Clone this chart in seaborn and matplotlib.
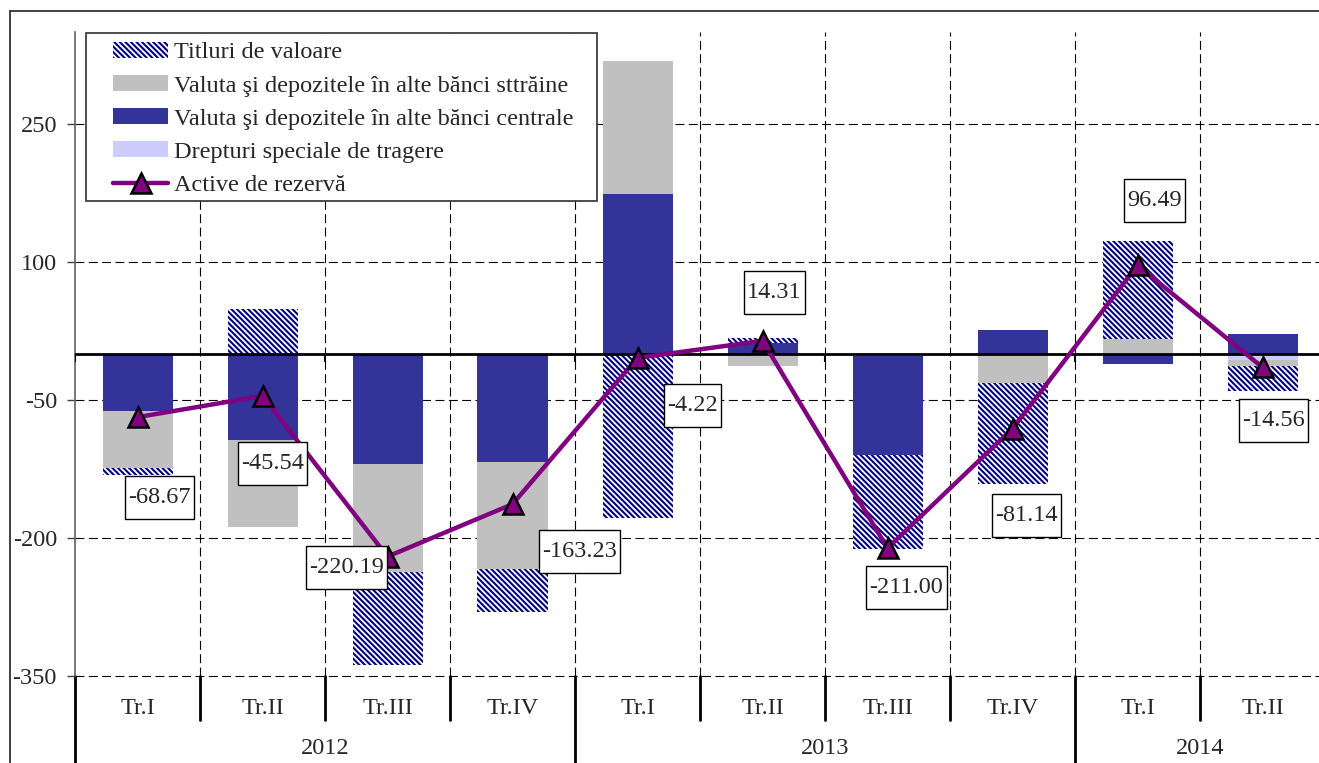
import numpy as np
import matplotlib
matplotlib.use("Agg")
import matplotlib.pyplot as plt
from matplotlib.lines import Line2D
from matplotlib.patches import Rectangle
from matplotlib.path import Path
import seaborn as sns

# ── data ──────────────────────────────────────────────────────────────────────

quarters = ["Tr.I", "Tr.II", "Tr.III", "Tr.IV", "Tr.I", "Tr.II", "Tr.III", "Tr.IV", "Tr.I", "Tr.II"]
years = ["2012", "2013", "2014"]
year_first = [0, 4, 8]          # first quarter index of each year
year_last = [3, 7, 9]           # last quarter index of each year

dst      = [0, 0, 0, 0, 0, -2.0, -2.5, 0, 1.5, -7.0]
centrale = [-61.5, -94.0, -119.5, -117.5, 173.5, 11.5, -107.0, 26.0, -11.0, 21.5]
straine  = [-62.0, -94.5, -117.0, -116.5, 145.0, -11.0, 0, -32.0, 15.0, -5.5]
titluri  = [-8.5, 49.0, -102.0, -46.0, -178.5, 6.0, -102.0, -109.0, 106.0, -27.5]
rezerva  = [-68.67, -45.54, -220.19, -163.23, -4.22, 14.31, -211.00, -81.14, 96.49, -14.56]

y_ticks = [250, 100, -50, -200, -350]

# label box offsets from the point, in pixels (style, not data)
label_offsets = [(22, -80), (10, -68), (-41, -11), (67, -47), (55, -48),
                 (12, 48), (19, -39), (14, -87), (17, 65), (11, -53)]

# ── style ─────────────────────────────────────────────────────────────────────

sns.set_style("white")
plt.rcParams["font.family"] = ["Liberation Serif", "DejaVu Serif"]
plt.rcParams["axes.unicode_minus"] = False
plt.rcParams["hatch.linewidth"] = 1.5
FS = 17.5


def label_box(x0, y0, width, height, mutation_size):
    # square box, narrow sideways and tall, like the Excel data labels
    px, py = 0.14 * mutation_size, 0.45 * mutation_size
    x0, y0 = x0 - px, y0 - py
    x1, y1 = x0 + width + 2 * px, y0 + height + 2 * py
    return Path([(x0, y0), (x1, y0), (x1, y1), (x0, y1), (x0, y0)], closed=True)


W, H = 1319, 763
fig = plt.figure(figsize=(W / 100, H / 100), dpi=100, facecolor="white")
ax = fig.add_axes([75 / W, 87 / H, 1250 / W, 644 / H])
ax.set_facecolor("white")

x = np.arange(len(quarters))

# ── stacked bars (positive and negative stacks kept apart) ───────────────────

series = [
    ("Drepturi speciale de tragere", dst, dict(color="#CCCCFF")),
    ("Valuta şi depozitele în alte bănci centrale", centrale, dict(color="#333399")),
    ("Valuta şi depozitele în alte bănci sttrăine", straine, dict(color="#C0C0C0")),
    ("Titluri de valoare", titluri, dict(color="white", edgecolor="#000080", hatch="\\" * 6)),
]
pos = np.zeros(len(x))
neg = np.zeros(len(x))
bars = {}
for name, vals, style in series:
    vals = np.asarray(vals, dtype=float)
    bottom = np.where(vals >= 0, pos, neg)
    bars[name] = ax.bar(x, vals, bottom=bottom, width=0.56, linewidth=0, zorder=2, label=name, **style)
    pos += np.clip(vals, 0, None)
    neg += np.clip(vals, None, 0)

# ── reserve assets line ──────────────────────────────────────────────────────

sns.lineplot(x=x, y=rezerva, ax=ax, color="#800080", linewidth=3.2, marker="^",
             markersize=15, markerfacecolor="#800080", markeredgecolor="black",
             markeredgewidth=1.8, zorder=5, legend=False)
line = ax.lines[-1]

for xi, v, off in zip(x, rezerva, label_offsets):
    ax.annotate(f"{v:.2f}", xy=(xi, v), xytext=off, textcoords="offset pixels",
                ha="center", va="center", fontsize=FS, zorder=6,
                bbox=dict(boxstyle=label_box, fc="white", ec="black", lw=1))

# ── axes, grid ────────────────────────────────────────────────────────────────

ax.set_xlim(-0.5, len(x) - 0.5)
ax.set_ylim(-350, 350)
ax.set_yticks(y_ticks)
ax.set_yticklabels([str(t) for t in y_ticks], fontsize=FS)
ax.tick_params(axis="y", direction="out", length=6, width=1, pad=7, left=True, color="#404040")
ax.set_xticks([])
ax.set_xticks(np.arange(0.5, len(x) - 0.5, 1), minor=True)
ax.tick_params(axis="x", which="both", length=0, labelbottom=False)

for s in ["top", "right", "bottom"]:
    ax.spines[s].set_visible(False)
ax.spines["left"].set_color("#606060")
ax.spines["left"].set_linewidth(1.2)

dash = (0, (8, 4))
ax.grid(axis="y", which="major", color="black", linestyle=dash, linewidth=0.8, zorder=0)
ax.grid(axis="x", which="minor", color="black", linestyle=dash, linewidth=0.8, zorder=0)
ax.set_axisbelow(True)
for gl in ax.get_ygridlines():
    gl.set_clip_on(False)

# zero axis with small ticks
ax.axhline(0, color="black", linewidth=2.0, zorder=4)
ax.vlines([-0.5, 1.5, 3.5, 5.5, 7.5], 0, -9, colors="black", linewidth=1.5, zorder=4)

# ── two-level category axis below the plot ───────────────────────────────────

tr = ax.get_xaxis_transform()
for xi, q in zip(x, quarters):
    ax.text(xi, -0.05, q, transform=tr, ha="center", va="center", fontsize=FS)
for y, a, b in zip(years, year_first, year_last):
    ax.text((a + b) / 2, -0.112, y, transform=tr, ha="center", va="center", fontsize=FS)

quarter_seps = [i + 0.5 for i in x[:-1] if i + 1 not in year_first]
for s in quarter_seps:
    ax.plot([s, s], [0, -0.068], transform=tr, color="black", lw=2, clip_on=False)
for s in [-0.5] + [f - 0.5 for f in year_first[1:]]:
    ax.plot([s, s], [0, -0.16], transform=tr, color="black", lw=2, clip_on=False)

# ── legend (white framed box drawn separately) ──────────────────────────────

handles = [bars["Titluri de valoare"],
           bars["Valuta şi depozitele în alte bănci sttrăine"],
           bars["Valuta şi depozitele în alte bănci centrale"],
           bars["Drepturi speciale de tragere"],
           line]
labels = ["Titluri de valoare",
          "Valuta şi depozitele în alte bănci sttrăine",
          "Valuta şi depozitele în alte bănci centrale",
          "Drepturi speciale de tragere",
          "Active de rezervă"]
leg = ax.legend(handles, labels, loc="upper left", bbox_to_anchor=(38 / 1250, 1 - 10 / 644),
                frameon=False, fontsize=FS, borderpad=0, borderaxespad=0,
                handlelength=2.27, handleheight=0.62, handletextpad=0.25, labelspacing=0.48)
leg.set_zorder(8)
ax.add_patch(Rectangle((10.7 / 1250, 1 - 169 / 644), 511 / 1250, 168 / 644,
                       transform=ax.transAxes, fc="white", ec="#404040", lw=1.3,
                       zorder=7, clip_on=False))

# ── outer chart frame ────────────────────────────────────────────────────────

fig.add_artist(Line2D([9.7 / W, 9.7 / W], [0, 1 - 11 / H], transform=fig.transFigure,
                      color="#333333", lw=1.3))
fig.add_artist(Line2D([9.7 / W, 1], [1 - 11 / H, 1 - 11 / H], transform=fig.transFigure,
                      color="#333333", lw=1.3))

fig.savefig("out.png", dpi=100, facecolor="white")
